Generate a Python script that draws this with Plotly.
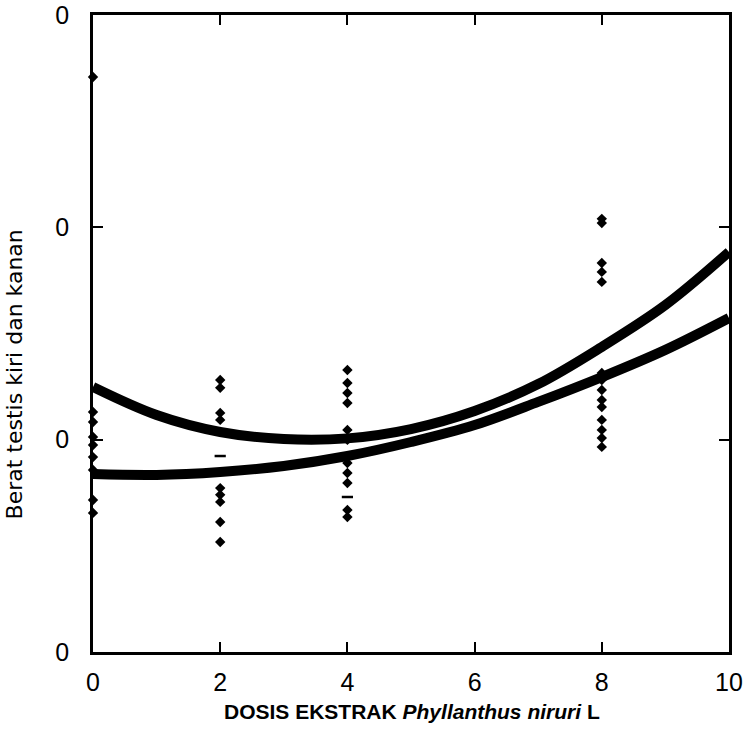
import plotly.graph_objects as go

# Dose levels (x) and individual testis weights observed at each dose
dose_0 = [2.708, 1.130, 1.083, 1.013, 0.975, 0.918, 0.857, 0.716, 0.655]
dose_2 = [1.281, 1.244, 1.126, 1.093, 0.772, 0.740, 0.707, 0.612, 0.518]
dose_4 = [1.328, 1.267, 1.220, 1.173, 1.046, 0.999, 0.890, 0.843, 0.796, 0.669, 0.636]
dose_8 = [2.040, 2.020, 1.832, 1.790, 1.743, 1.314, 1.281, 1.234, 1.187,
          1.154, 1.093, 1.046, 1.008, 0.966]

# Observations drawn with a short dash symbol
dash_x = [2, 4]
dash_y = [0.923, 0.730]

# Fitted response curves (left and right testis)
curve_x = [0, 1, 2, 3, 4, 5, 6, 7, 8, 9, 10]
curve_upper = [1.248, 1.116, 1.036, 1.003, 1.006, 1.050, 1.135, 1.262, 1.437, 1.634, 1.884]
curve_lower = [0.838, 0.834, 0.848, 0.876, 0.923, 0.989, 1.069, 1.178, 1.295, 1.423, 1.573]

x_ticks = [0, 2, 4, 6, 8, 10]
x_tick_text = ["0", "2", "4", "6", "8", "10"]
y_ticks = [0, 1, 2, 3]
y_tick_text = ["0", "0", "0", "0"]

x_title = "<b>DOSIS EKSTRAK <i>Phyllanthus niruri</i> L</b>"
y_title = "Berat testis kiri dan kanan"

fig = go.Figure()

for xs, ys in [(curve_x, curve_upper), (curve_x, curve_lower)]:
    fig.add_trace(go.Scatter(
        x=xs, y=ys, mode="lines",
        line=dict(color="black", width=10, shape="spline"),
        hoverinfo="skip", showlegend=False, cliponaxis=False,
    ))

groups = [(0, dose_0), (2, dose_2), (4, dose_4), (8, dose_8)]
for dose, vals in groups:
    fig.add_trace(go.Scatter(
        x=[dose] * len(vals), y=vals, mode="markers",
        marker=dict(symbol="diamond", size=8, color="black"),
        showlegend=False, cliponaxis=False,
    ))

fig.add_trace(go.Scatter(
    x=dash_x, y=dash_y, mode="markers",
    marker=dict(symbol="line-ew", size=8, line=dict(color="black", width=2.5)),
    showlegend=False, cliponaxis=False,
))

axis_common = dict(
    showline=True, linecolor="black", linewidth=2.5, mirror="allticks",
    ticks="inside", ticklen=10, tickwidth=2, tickcolor="black",
    showgrid=False, zeroline=False, automargin=False,
    tickfont=dict(family="Liberation Sans, Arial, sans-serif", size=25, color="black"),
)

fig.update_xaxes(range=[0, 10], tickvals=x_ticks, ticktext=x_tick_text,
                 ticklabelstandoff=6, **axis_common)
fig.update_yaxes(range=[0, 3], tickvals=y_ticks, ticktext=y_tick_text,
                 ticklabelstandoff=16, **axis_common)

fig.add_annotation(
    text=x_title, xref="paper", yref="paper", x=0.502, y=-0.094,
    showarrow=False, xanchor="center", yanchor="middle",
    font=dict(family="Liberation Sans, Arial, sans-serif", size=21, color="black"),
)
fig.add_annotation(
    text=y_title, xref="paper", yref="paper", x=-0.124, y=0.436,
    showarrow=False, xanchor="center", yanchor="middle", textangle=-90,
    font=dict(family="DejaVu Sans, sans-serif", size=22, color="black"),
)

fig.update_layout(
    width=748, height=746,
    margin=dict(l=93, r=19, t=15, b=94),
    plot_bgcolor="white", paper_bgcolor="white",
    showlegend=False,
)

fig.write_html("out.html")
